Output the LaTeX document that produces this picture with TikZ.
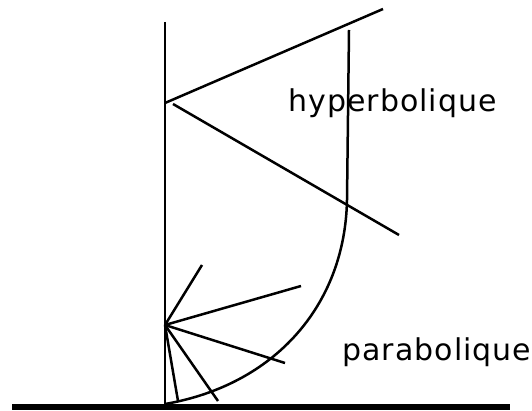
\documentclass[tikz,border=0pt]{standalone}
\usepackage{fontspec}
\setmainfont{DejaVu Sans}[LetterSpace=3.5]
\begin{document}
\begin{tikzpicture}[x=1pt,y=-1pt,
  thinline/.style={line width=2.5pt,line cap=butt},
  label/.style={inner sep=0pt,anchor=base west,font=\fontsize{30}{36}\selectfont}]
\useasboundingbox (0,0) rectangle (532,411);
% coordinates
\coordinate (vtop) at (165,22);
\coordinate (vbot) at (165,404);
\coordinate (gl) at (12,407);
\coordinate (gr) at (510,407);
\coordinate (hO) at (165,103);
\coordinate (hO2) at (173,104);
\coordinate (hA) at (383,9);
\coordinate (hB) at (399,235);
\coordinate (pO) at (165,325);
\coordinate (p1) at (202,265);
\coordinate (p2) at (301,286);
\coordinate (p3) at (285,363);
\coordinate (p4) at (218,401);
\coordinate (p5) at (178,401);
\coordinate (ctop) at (349,30);
\coordinate (cmid) at (347,200);
% ground and axis
\draw[line width=6pt] (gl) -- (gr);
\draw[thinline] (vtop) -- (vbot);
% hyperbolic rays
\draw[thinline] (hO) -- (hA);
\draw[thinline] (hO2) -- (hB);
% parabolic rays
\foreach \p in {p1,p2,p3,p4,p5} \draw[thinline] (pO) -- (\p);
% curve
\draw[thinline] (ctop) -- (cmid) .. controls (345,305) and (275,385) .. (vbot);
% labels
\node[label] (hyp) at (288,112) {hyperbolique};
\node[label] (par) at (342,360) {parabolique};
\end{tikzpicture}
\end{document}
